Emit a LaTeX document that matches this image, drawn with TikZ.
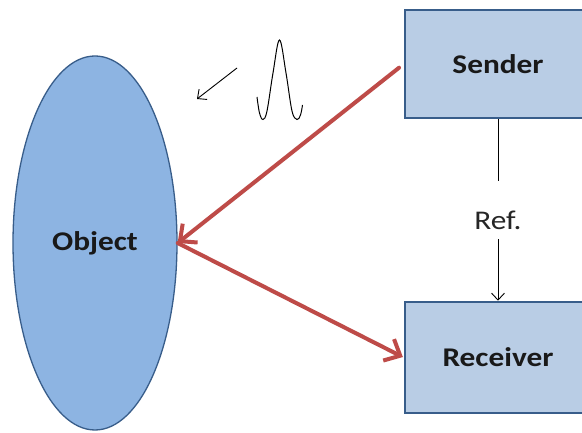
\documentclass[tikz,border=0pt]{standalone}
\usepackage{fontspec}
\setmainfont{Carlito}[FakeStretch=1.16]
\usepackage{tikz}
\usetikzlibrary{positioning,shapes.geometric,arrows.meta}

\definecolor{objfill}{HTML}{8DB4E2}
\definecolor{boxfill}{HTML}{B9CDE5}
\definecolor{edgeblue}{HTML}{385D8A}
\definecolor{echored}{HTML}{BE4B48}

\begin{document}
\begin{tikzpicture}[x=1pt,y=1pt,
  box/.style={draw=edgeblue,line width=2.5pt,fill=boxfill,minimum width=186pt,
    font=\fontsize{27}{30}\selectfont\bfseries,text=black!90},
  target/.style={ellipse,draw=edgeblue,line width=1.3pt,fill=objfill,
    minimum width=164pt,minimum height=374pt,inner sep=0pt,
    font=\fontsize{27}{30}\selectfont\bfseries,text=black!90},
  echo/.style={echored,line width=4pt,line cap=round,
    -{Straight Barb[length=13pt,width=24pt,line width=4pt]}},
  thin/.style={black,line width=0.9pt,-{Straight Barb[length=7pt,width=13pt]}}]
\useasboundingbox (0,0) rectangle (582,433);
\fill[white] (0,0) rectangle (582,433);

\node[target] (object) at (95,190) {Object};
\node[box,minimum height=108pt] (sender) at (498,369) {Sender};
\node[box,minimum height=111pt] (receiver) at (498,75.5) {Receiver};

\draw[thin] (sender.south) -- node[fill=white,inner xsep=2pt,inner ysep=3pt,
  text height=46pt,text depth=6pt,font=\fontsize{27}{30}\selectfont,text=black!85]
  {Ref.} (receiver.north);

\draw[echo,shorten <=6pt] (sender.west) -- (object.east);
\draw[echo,shorten >=1pt] (object.east) -- (receiver.west);

\coordinate (wavetail) at (237,365);
\coordinate (wavehead) at (197,334);
\draw[thin] (wavetail) -- (wavehead);
\draw[black,line width=1pt] plot[smooth,tension=0.6] coordinates
  {(257,336) (259.5,320) (263,313.5) (267,322) (273,360) (279.5,393) (286,360)
   (292,322) (297,313.5) (300.5,318) (302.5,328)};
\end{tikzpicture}
\end{document}
